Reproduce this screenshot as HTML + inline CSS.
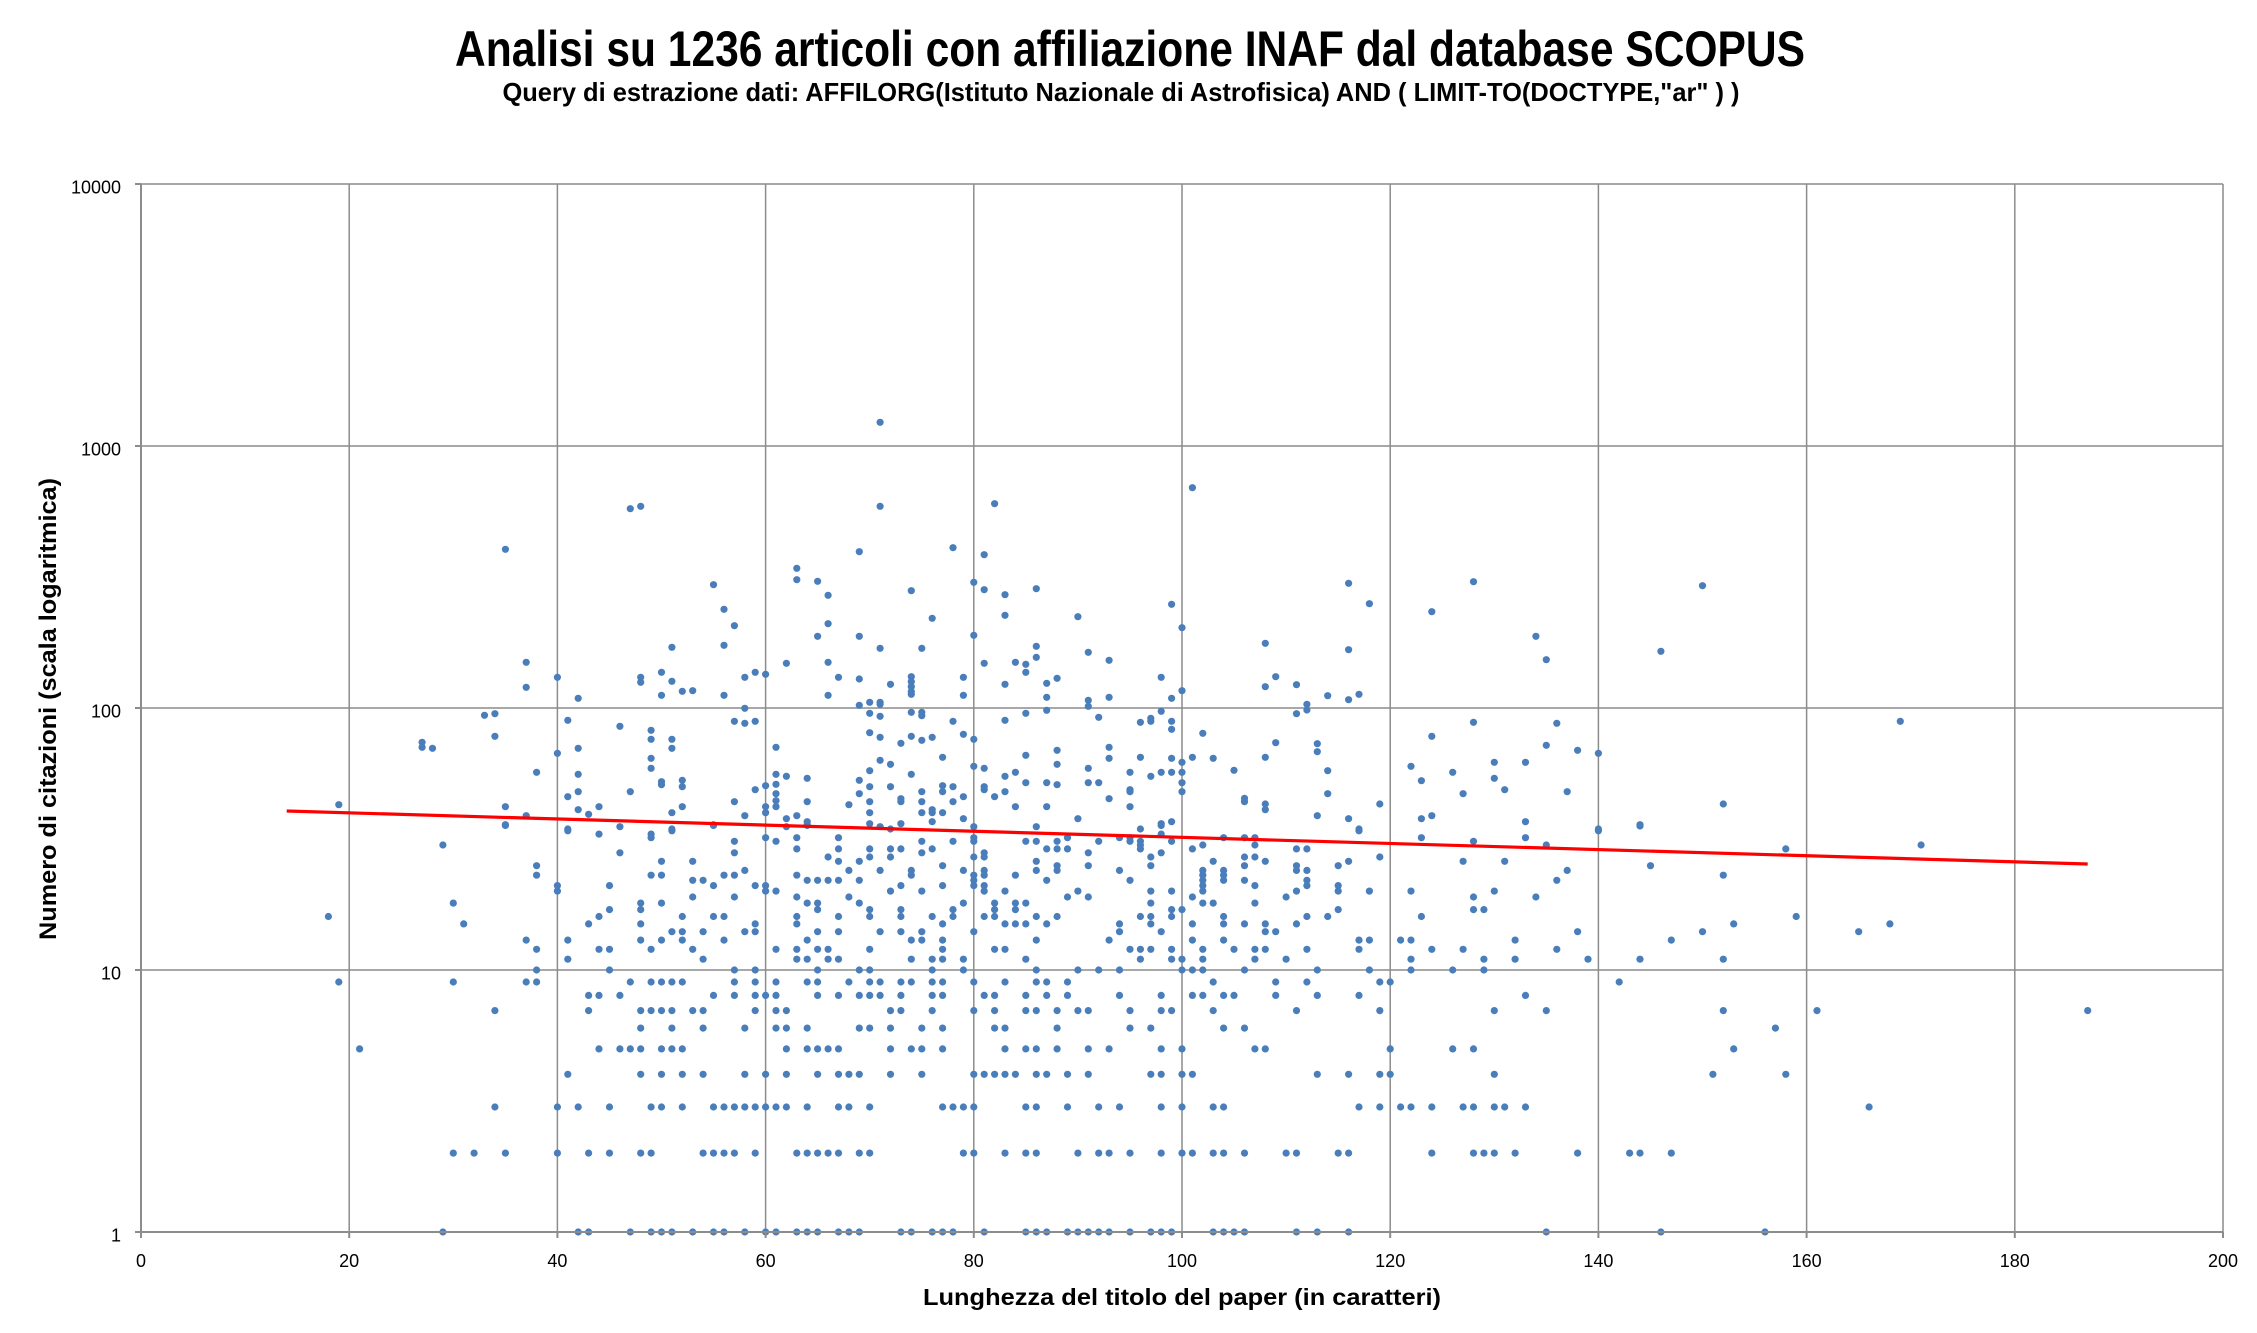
<!DOCTYPE html>
<html><head><meta charset="utf-8"><style>
html,body{margin:0;padding:0;background:#fff;}
svg{display:block;}
text{font-family:"Liberation Sans",Arial,sans-serif;fill:#000;}
</style></head><body>
<svg id="c" xmlns="http://www.w3.org/2000/svg" width="2257" height="1333" viewBox="0 0 2257 1333">
<rect x="0" y="0" width="2257" height="1333" fill="#fff"/>
<text x="1130" y="66" text-anchor="middle" font-size="50" font-weight="bold" textLength="1350" lengthAdjust="spacingAndGlyphs">Analisi su 1236 articoli con affiliazione INAF dal database SCOPUS</text>
<text x="1121" y="101" text-anchor="middle" font-size="26" font-weight="bold" textLength="1237" lengthAdjust="spacingAndGlyphs">Query di estrazione dati: AFFILORG(Istituto Nazionale di Astrofisica) AND ( LIMIT-TO(DOCTYPE,"ar" ) )</text>
<g id="grid" stroke="#8c8c8c" stroke-width="1.5" fill="none"></g>
<g id="dots" fill="#4a7ebb"></g>
<line x1="286.7" y1="811" x2="2087.7" y2="864" stroke="#ff0000" stroke-width="3.2"/>
<g id="axes" stroke="#8c8c8c" stroke-width="2" fill="none"></g>
<g id="labels" font-size="18"></g>
<text transform="translate(56,709) rotate(-90)" text-anchor="middle" font-size="24" font-weight="bold" textLength="462" lengthAdjust="spacingAndGlyphs">Numero di citazioni (scala logaritmica)</text>
<text x="1182" y="1305" text-anchor="middle" font-size="23" font-weight="bold" textLength="518" lengthAdjust="spacingAndGlyphs">Lunghezza del titolo del paper (in caratteri)</text>
</svg>
<script>
(function(){
var NS="http://www.w3.org/2000/svg";
function X(l){return 141+l*10.41;}
function Y(v){return 1232-262*Math.log(v)/Math.LN10;}
function el(tag,attrs,parent,txt){var e=document.createElementNS(NS,tag);for(var k in attrs)e.setAttribute(k,attrs[k]);if(txt!==undefined)e.textContent=txt;parent.appendChild(e);return e;}
var grid=document.getElementById('grid'),axes=document.getElementById('axes'),labels=document.getElementById('labels'),dots=document.getElementById('dots');
var i;
for(i=1;i<=10;i++){var x=X(i*20);el('line',{x1:x,y1:184,x2:x,y2:1232},grid);}
for(i=1;i<=4;i++){var y=Y(Math.pow(10,i));el('line',{x1:141,y1:y,x2:2223,y2:y},grid);}
el('line',{x1:141,y1:184,x2:141,y2:1232},axes);
el('line',{x1:135,y1:1232,x2:2223,y2:1232},axes);
for(i=0;i<=4;i++){var yy=Y(Math.pow(10,i));el('line',{x1:135,y1:yy,x2:141,y2:yy},axes);
 el('text',{x:121,y:yy+9.5,'text-anchor':'end'},labels,String(Math.pow(10,i)));}
for(i=0;i<=10;i++){var xx=X(i*20);el('line',{x1:xx,y1:1232,x2:xx,y2:1238},axes);
 el('text',{x:xx,y:1267,'text-anchor':'middle'},labels,String(i*20));}
var rows={
1:[29,42,43,47,49,50,51,53,55,56,58,60,61,63,64,65,67,68,69,73,74,76,77,78,81,85,86,87,89,90,91,92,93,95,97,98,99,103,104,105,106,111,113,116,135,146,156],
2:[30,32,35,40,43,45,48,49,54,55,56,57,59,63,64,65,66,67,69,70,79,80,83,85,86,90,92,93,95,98,100,101,103,104,106,110,111,115,116,124,128,129,130,132,138,143,144,147],
3:[34,40,42,45,49,50,52,55,56,57,58,59,60,61,62,64,67,68,70,77,78,79,80,85,86,89,92,94,98,100,103,104,117,119,121,122,124,127,128,130,131,133,166],
4:[41,48,50,52,54,58,60,62,65,67,68,69,72,75,80,81,82,83,84,86,87,89,91,97,98,100,101,113,116,119,120,130,151,158],
5:[21,44,46,47,48,50,51,52,62,64,65,66,67,72,74,75,77,83,85,86,88,91,93,98,100,107,108,120,126,128,153],
6:[48,51,54,58,61,62,64,69,70,72,75,77,82,83,88,95,97,104,106,157],
7:[34,43,48,49,50,51,53,54,59,61,62,72,73,76,80,82,85,86,88,90,91,95,98,99,103,111,119,130,135,152,161,187],
8:[43,44,46,55,57,59,60,61,65,67,69,70,71,73,76,77,81,82,85,87,89,94,98,101,102,104,105,109,113,117,133],
9:[19,30,37,38,47,49,50,51,52,57,59,61,64,65,68,70,71,73,74,76,77,80,83,86,87,89,103,109,112,119,120,142],
10:[38,45,57,59,65,69,70,76,79,86,90,92,94,100,101,102,106,113,118,122,126,129],
11:[41,54,63,64,66,67,74,76,77,79,85,96,99,100,102,107,110,122,129,132,139,144,152],
12:[38,44,45,49,53,61,63,65,66,70,77,82,83,95,96,97,99,102,105,107,108,112,117,124,127,136],
13:[37,41,48,50,52,56,64,74,75,77,86,93,101,104,117,118,121,122,132,147],
14:[51,52,54,58,59,65,67,71,73,75,80,94,98,108,109,138,150,165],
15:[31,43,48,59,63,77,83,84,85,87,94,97,101,104,106,108,111,153,168],
16:[18,44,52,55,56,63,67,70,73,76,78,81,82,86,88,96,97,99,104,112,114,123,159],
17:[45,48,65,70,73,78,82,84,99,100,115,128,129],
18:[30,48,50,64,65,69,79,82,84,85,97,102,103,107],
19:[53,57,63,68,89,91,101,110,128,134],
20:[40,60,61,72,75,81,83,90,97,99,102,111,115,118,122,130],
21:[40,45,55,59,60,73,77,80,81,102,107,112,115],
22:[53,54,64,65,66,67,69,80,87,95,102,104,106,112,136],
23:[38,49,50,56,57,63,74,80,81,84,102,104,152],
24:[58,68,71,74,79,81,86,88,94,102,104,111,112,137],
25:[38,77,88,91,97,106,111,115,145],
26:[50,53,67,69,86,103,108,116,127,131],
27:[66,70,72,80,81,97,106,107,119],
28:[46,57,75,81,91,98],
29:[63,67,70,72,73,76,87,88,89,96,101,111,112,158],
30:[29,96,102,107,135,171],
31:[57,61,75,78,80,85,86,88,92,95,96,99,128],
32:[49,60,63,67,80,89,94,95,104,106,107,133,123],
33:[44,49,98],
34:[41,51,117,140]
};
var pts=[
[71,422.3],[101,487.7],[47,508.7],[48,506.3],[71,506.3],[82,503.7],[35,549.3],[69,551.7],[78,547.7],[81,554.7],
[63,568.3],[63,579.7],[65,581.3],[55,584.7],[66,595.3],[74,590.7],[80,582.3],[81,589.7],[83,594.7],[86,588.7],
[99,604.3],[56,609.3],[57,625.7],[66,623.7],[76,618.3],[83,615.3],[90,616.7],[100,627.7],[65,636.3],[69,636.3],
[80,635.3],[51,647.3],[56,645.3],[71,648.3],[75,648.3],[86,646.3],[86,657.3],[91,652.3],[37,662.3],[62,663.3],
[66,662.3],[81,663.3],[84,662.3],[85,664.3],[93,660.3],[85,672.3],[50,672.3],[59,672.3],[60,674.3],[58,677.3],
[67,677.3],[69,679],[74,676.7],[74,681.7],[74,686.7],[74,691.7],[74,694.3],[79,677.3],[88,678.3],[98,677.3],
[40,677.3],[48,677.3],[48,682.3],[51,681.3],[72,684.3],[83,684.3],[87,683.3],[37,687.3],[52,691.3],[53,690.7],
[50,695.3],[56,695.3],[66,695.3],[79,695.3],[87,697.3],[93,697.3],[99,698.3],[100,690.7],[42,698.3],[91,700.3],
[91,706.3],[70,702.3],[71,702.3],[71,704.3],[69,705.3],[58,708.3],[87,710.3],[98,711.3],[33,715.3],[34,713.7],
[70,713.3],[71,716.3],[74,712.3],[75,712.3],[75,715.7],[85,713.3],[92,717.3],[41,720.3],[57,721.3],[58,723.3],
[59,721.3],[78,721.3],[83,720.3],[96,722.3],[97,718.3],[97,721.3],[99,721.3],[99,729.3],[46,726.3],[49,730.3],
[102,733.3],[70,732.7],[79,734.3],[80,739.3],[34,736.3],[49,739.3],[51,739.3],[71,737.3],[74,736.3],[75,740.3],
[76,737.3],[73,743.3],[27,742.3],[27,747.3],[28,748.3],[42,748.3],[51,748.3],[61,747.3],[88,750.3],[93,747.3],
[40,753.3],[85,755.3],[96,757.3],[99,758.3],[101,757.3],[100,762.3],[49,758.3],[93,758.3],[71,760.3],[72,764.3],
[77,757.3],[88,764.3],[80,766.3],[81,768.3],[49,768.3],[91,768.3],[38,772.3],[70,770.7],[84,772.3],[95,772.3],
[98,772.3],[99,772.3],[100,772.3],[42,774.3],[61,774.3],[62,776.3],[64,778.3],[74,774.3],[83,776.3],[97,776.3],
[50,781.7],[50,784.7],[52,780.3],[52,786.7],[60,785.7],[61,784.3],[69,780.3],[70,786.7],[72,786.7],[77,785.7],
[77,791.7],[78,786.7],[81,786.7],[81,789.7],[85,782.7],[87,782.7],[88,784.7],[91,782.7],[92,782.7],[100,782.7],
[95,789.7],[95,791.7],[100,791.7],[41,796.7],[42,791.7],[47,791.7],[59,789.7],[61,793.7],[69,793.7],[73,798.7],
[73,801.7],[75,791.7],[79,796.7],[82,796.7],[83,791.7],[93,798.7],[19,804.7],[35,806.7],[44,806.7],[52,806.7],
[57,801.7],[60,806.7],[61,800.7],[61,806.7],[64,801.7],[68,804.7],[70,801.7],[75,801.7],[78,801.7],[84,806.7],
[87,806.7],[95,806.7],[42,809.7],[43,814.3],[37,815.7],[51,812.7],[60,812.7],[63,815.7],[70,812.7],[75,812.7],
[76,809.7],[76,812.7],[77,812.7],[58,815.7],[62,818.7],[79,818.7],[90,818.7],[99,821.7],[98,823.7],[35,824.7],
[46,826.7],[55,824.7],[64,821.7],[64,824.7],[70,823.7],[73,823.7],[76,821.7],[86,826.7],[41,829],[51,829],
[71,826.7],[72,829],[80,826.7],[96,829],[62,826.7],
[116,583.3],[128,581.7],[150,585.7],[118,603.7],[124,611.7],[134,636.3],[135,659.7],[146,651.3],[108,643.3],[116,649.7],
[109,676.7],[108,686.7],[111,684.7],[114,695.7],[116,699.7],[117,694.3],[112,704.3],[112,710],[111,713.7],[128,722.3],
[136,723.3],[169,721.3],[109,742.7],[113,743.7],[113,751.7],[124,736.3],[103,758.3],[108,757.3],[135,745.3],[138,750.3],
[140,753.3],[105,770.3],[114,770.7],[122,766.3],[130,762.3],[133,762.3],[123,780.7],[126,772.3],[130,778.3],[131,789.7],
[127,793.7],[137,791.7],[114,793.7],[106,798.3],[106,801.7],[108,804],[108,809.7],[119,804],[152,804],[113,815.7],
[116,818.7],[123,818.7],[124,815.7],[133,821.7],[144,824.7],[117,829],[140,829],[144,826],[55,825.5],[35,825.5],
[98,825.5],[64,825.5]
];
var frag=document.createDocumentFragment();
function dot(cx,cy){var c=document.createElementNS(NS,'circle');c.setAttribute('cx',cx.toFixed(1));c.setAttribute('cy',cy.toFixed(1));c.setAttribute('r','3.6');frag.appendChild(c);}
for(var v in rows){var arr=rows[v],yv=Y(+v);for(var j=0;j<arr.length;j++)dot(X(arr[j]),yv);}
for(var k=0;k<pts.length;k++)dot(X(pts[k][0]),pts[k][1]);
dots.appendChild(frag);
})();
</script>
</body></html>
